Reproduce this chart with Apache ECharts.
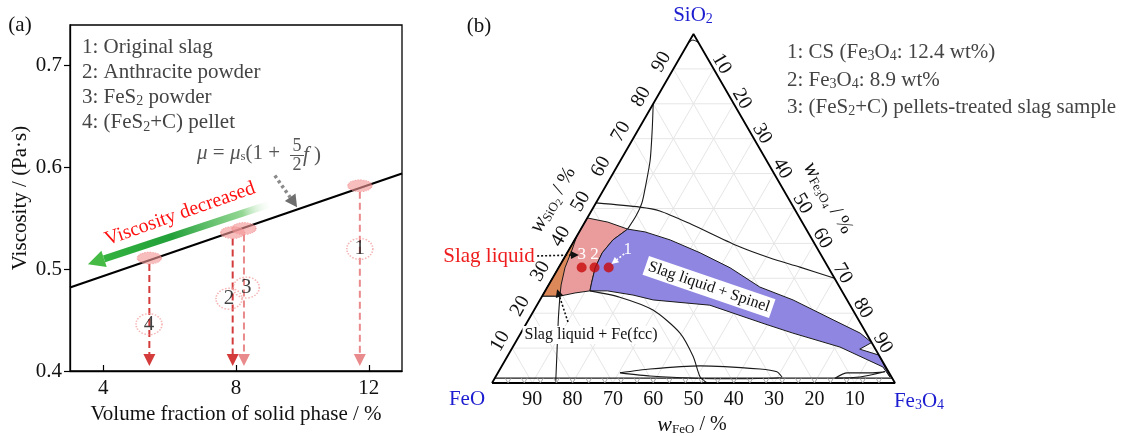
<!DOCTYPE html>
<html>
<head>
<meta charset="utf-8">
<script src="https://cdn.jsdelivr.net/npm/echarts@6.0.0/dist/echarts.min.js"></script>
<style>
html,body{margin:0;padding:0;background:#fff;}
#chart{width:1125px;height:436px;}
</style>
</head>
<body>
<div id="chart"></div>
<script>
// ---------- Panel (a): viscosity vs. volume fraction of solid phase ----------
const xTicksA = [4, 8, 12];
const yTicksA = [0.4, 0.5, 0.6, 0.7];
const fitX = [3, 13];
const fitY = [0.482, 0.594];
const sampleIds = ['1', '2', '3', '4'];
const sampleX = [11.73, 7.90, 8.24, 5.39];
const sampleY = [0.582, 0.536, 0.540, 0.511];
const tagX = [11.73, 7.79, 8.31, 5.38];
const tagY = [0.520, 0.471, 0.482, 0.446];
const dropEndY = 0.405;
const legendA = ['1: Original slag', '2: Anthracite powder', '3: FeS{s|2} powder', '4: (FeS{s|2}+C) pellet'];
const greenArrow = [9.11, 0.565, 3.54, 0.505];
const grayArrow = [9.17, 0.592, 9.84, 0.561];

// ---------- Panel (b): FeO–SiO2–Fe3O4 ternary; points are [SiO2 wt%, Fe3O4 wt%], FeO = balance ----------
const ternTicks = [10, 20, 30, 40, 50, 60, 70, 80, 90];
const slagLiquid = [[47.3,0],[46.1,5.7],[44.1,11.6],[41.0,9.5],[37.3,8.7],[33.0,9.1],[28.9,10.3],[26.4,11.1],[25.8,7.7],[24.9,4.4],[24.9,0]];
const slagLiquidFcc = [[24.9,0],[42.1,0],[38.1,0.8],[33.0,1.6],[28.1,3.1],[24.9,4.4]];
const slagSpinel = [[44.1,11.6],[43.3,16.3],[41.0,23.7],[37.3,33.0],[33.0,42.6],[27.5,52.7],[23.8,62.8],[18.1,75.6],[14.3,84.2],[11.6,88.4],[9.7,86.4],[8.0,92.0],[1.7,97.9],[4.6,94.7],[10.3,81.2],[14.3,67.5],[16.9,59.3],[22.3,42.9],[23.8,28.1],[25.2,22.4],[26.4,15.4],[26.4,11.1],[28.9,10.3],[33.0,9.1],[37.3,8.7],[41.0,9.5]];
const lineA = [[80,0],[72.5,3.5],[63.9,7.3],[56.7,9.8],[51.6,11.4],[47.9,11.8],[44.1,11.6]];
const lineB = [[51.6,0],[50.4,11.5],[49.3,17.0],[45.6,26.4],[39.3,41.2],[35.8,51.1],[33.2,59.8],[30.0,70.0]];
const lineC = [[26.4,11.1],[24.6,19.4],[20.9,29.5],[14.3,39.5],[7.5,46.2],[1.7,50.8],[0,53.4]];
const lineD = [[24.9,4.4],[18.1,7.4],[9.5,11.4],[0,15.8]];
const lineE = [[1.4,0],[1.4,98.6]];
const loop1 = [[2.9,30.3],[4.0,37.2],[4.9,49.2],[4.0,64.5],[3.2,69.1],[1.7,71.1],[1.2,56.0],[2.0,38.2],[2.9,30.3]];
const loop2 = [[1.4,84.4],[2.9,86.7],[2.9,92.4],[3.2,95.9],[1.7,90.5],[1.4,84.4]];
const capArc = [[97.6,0],[98.3,0.7],[97.6,2.4]];
const sampleIdsB = ['1', '2', '3'];
const samplesB = [[33.1,12.4],[33.1,8.9],[33.1,5.7]];
const arrowLiquid = [[36.4,-7.0],[36.7,3.2]];
const arrowFcc = [[17.5,10.1],[26.9,2.7]];
const arrowS1 = [[37.0,14.3],[34.1,12.6]];

// ---------- helpers ----------
const SERIF = "'Liberation Serif','Times New Roman',serif";
const R3 = Math.sqrt(3) / 2;
function tern(s, f) { return [(f + s / 2) / 100, s * R3 / 100]; }

function arrowShapes(p0, p1, o) {
  const dx = p1[0] - p0[0], dy = p1[1] - p0[1], L = Math.hypot(dx, dy);
  const ux = dx / L, uy = dy / L, hw = o.headW / 2;
  const bx = p1[0] - ux * o.headLen, by = p1[1] - uy * o.headLen;
  let stroke = o.color;
  if (o.gradient) {
    stroke = new echarts.graphic.LinearGradient(p0[0], p0[1], bx, by, o.gradient, true);
  }
  return [
    {type: 'line', shape: {x1: p0[0], y1: p0[1], x2: bx, y2: by},
     style: {stroke: stroke, lineWidth: o.width, lineDash: o.dash || null, lineCap: 'butt'}},
    {type: 'polygon', shape: {points: [[p1[0], p1[1]], [bx - uy * hw, by + ux * hw], [bx + uy * hw, by - ux * hw]]},
     style: {fill: o.headColor || o.color}}
  ];
}

function ternLine(pts, width) {
  return {type: 'line', xAxisIndex: 1, yAxisIndex: 1, data: pts.map(p => tern(p[0], p[1])),
    symbol: 'none', silent: true, z: 4, smooth: 0.25,
    lineStyle: {color: '#1a1a1a', width: width || 1.1}};
}

const chart = echarts.init(document.getElementById('chart'), null, {renderer: 'canvas'});

const regionDefs = [
  {pts: slagLiquid, fill: '#ea9c9c'},
  {pts: slagLiquidFcc, fill: '#dd8858'},
  {pts: slagSpinel, fill: '#8f86e2'}
];

const subRich = (fill, size) => ({
  s: {fontSize: size, fontFamily: SERIF, fill: fill, padding: [Math.round(size * 0.6), 0, 0, 0]}
});

const option = {
  animation: false,
  backgroundColor: '#fff',
  grid: [
    {left: 70, top: 25, width: 332, height: 346, show: true, borderColor: '#000', borderWidth: 1.3, backgroundColor: 'transparent'},
    {left: 492, top: 34, width: 403, height: 403 * R3}
  ],
  xAxis: [
    {gridIndex: 0, type: 'value', min: 3, max: 13,
     axisLine: {show: true, lineStyle: {color: '#000', width: 1.3}},
     axisTick: {show: true, inside: true, length: 6, customValues: xTicksA, lineStyle: {color: '#000', width: 1.2}},
     axisLabel: {customValues: xTicksA, fontSize: 21, fontFamily: SERIF, color: '#111', margin: 7},
     splitLine: {show: false},
     name: 'Volume fraction of solid phase / %', nameLocation: 'middle', nameGap: 29,
     nameTextStyle: {fontSize: 21, fontFamily: SERIF, color: '#111'}},
    {gridIndex: 1, type: 'value', min: 0, max: 1, show: false}
  ],
  yAxis: [
    {gridIndex: 0, type: 'value', min: 0.4, max: 0.74,
     axisLine: {show: true, lineStyle: {color: '#000', width: 1.3}},
     axisTick: {show: true, inside: false, length: 6, customValues: yTicksA, lineStyle: {color: '#000', width: 1.2}},
     axisLabel: {customValues: yTicksA, fontSize: 21, fontFamily: SERIF, color: '#111', margin: 8,
                 formatter: v => v.toFixed(1)},
     splitLine: {show: false},
     name: 'Viscosity / (Pa·s)', nameLocation: 'middle', nameGap: 39,
     nameTextStyle: {fontSize: 21, fontFamily: SERIF, color: '#111'}},
    {gridIndex: 1, type: 'value', min: 0, max: R3, show: false}
  ],
  series: [
    // ---- panel (a) ----
    {type: 'line', xAxisIndex: 0, yAxisIndex: 0, data: fitX.map((x, i) => [x, fitY[i]]),
     symbol: 'none', lineStyle: {color: '#000', width: 2.2}, z: 3},
    {type: 'custom', xAxisIndex: 0, yAxisIndex: 0, z: 2,
     data: sampleX.map((x, i) => [x, sampleY[i], i]),
     renderItem: (params, api) => {
       const i = params.dataIndex;
       const top = api.coord([sampleX[i], sampleY[i]]);
       const tip = api.coord([sampleX[i], dropEndY]);
       const dark = (i === 1 || i === 3);
       const col = dark ? '#d43c3c' : '#e98a8c';
       return {type: 'group', children: arrowShapes([top[0], top[1] + 6], tip,
         {color: col, width: 2, dash: [7, 4], headLen: 12, headW: 12})};
     }},
    {type: 'scatter', xAxisIndex: 0, yAxisIndex: 0, z: 4,
     data: sampleX.map((x, i) => [x, sampleY[i]]),
     symbol: 'circle', symbolSize: [24, 12],
     itemStyle: {color: 'rgba(243,150,150,0.78)', borderColor: '#f28a8a', borderWidth: 1, borderType: 'dotted'}},
    {type: 'scatter', xAxisIndex: 0, yAxisIndex: 0, z: 5,
     data: tagX.map((x, i) => ({value: [x, tagY[i]], label: {formatter: sampleIds[i]}})),
     symbol: 'circle', symbolSize: [26, 21],
     itemStyle: {color: 'rgba(255,255,255,0)', borderColor: '#f4a3a3', borderWidth: 1.5, borderType: 'dotted'},
     label: {show: true, position: 'inside', fontSize: 21, fontFamily: SERIF, color: '#111'}},
    {type: 'custom', xAxisIndex: 0, yAxisIndex: 0, z: 6,
     data: [[greenArrow[0], greenArrow[1]]],
     renderItem: (params, api) => {
       const g0 = api.coord([greenArrow[0], greenArrow[1]]);
       const g1 = api.coord([greenArrow[2], greenArrow[3]]);
       const q0 = api.coord([grayArrow[0], grayArrow[1]]);
       const q1 = api.coord([grayArrow[2], grayArrow[3]]);
       return {type: 'group', children: [].concat(
         arrowShapes(g0, g1, {color: '#2e9e3a', width: 7, headLen: 17, headW: 17, headColor: '#45bb45',
           gradient: [{offset: 0, color: 'rgba(255,255,255,0)'}, {offset: 0.18, color: 'rgba(120,205,120,0.8)'},
                      {offset: 0.6, color: '#22a03a'}, {offset: 1, color: '#33b23f'}]}),
         arrowShapes(q0, q1, {color: '#8a8a8a', width: 3.5, dash: [3, 3], headLen: 12, headW: 13, headColor: '#6e6e6e'})
       )};
     }},

    // ---- panel (b) ----
    {type: 'custom', xAxisIndex: 1, yAxisIndex: 1, z: 1, silent: true,
     data: ternTicks.map(t => [0.5, 0.3, t]),
     renderItem: (params, api) => {
       const t = ternTicks[params.dataIndex];
       const seg = (a, b) => {
         const p = api.coord(tern(a[0], a[1])), q = api.coord(tern(b[0], b[1]));
         return {type: 'line', shape: {x1: p[0], y1: p[1], x2: q[0], y2: q[1]}, style: {stroke: '#e6e6e6', lineWidth: 1}};
       };
       return {type: 'group', children: [
         seg([t, 0], [t, 100 - t]),
         seg([0, t], [100 - t, t]),
         seg([0, 100 - t], [100 - t, 0])
       ]};
     }},
    {type: 'custom', xAxisIndex: 1, yAxisIndex: 1, z: 2, silent: true,
     data: regionDefs.map((r, i) => [0.5, 0.3, i]),
     renderItem: (params, api) => {
       const r = regionDefs[params.dataIndex];
       return {type: 'polygon', shape: {points: r.pts.map(p => api.coord(tern(p[0], p[1])))},
               style: {fill: r.fill, stroke: '#1a1a1a', lineWidth: 1}};
     }},
    ternLine(lineA), ternLine(lineB), ternLine(lineC), ternLine(lineD), ternLine(lineE, 1.3),
    ternLine(loop1), ternLine(loop2), ternLine(capArc),
    {type: 'line', xAxisIndex: 1, yAxisIndex: 1, symbol: 'none', silent: true, z: 5,
     data: [tern(0, 0), tern(0, 100), tern(100, 0), tern(0, 0)],
     lineStyle: {color: '#000', width: 1.8}},
    {type: 'scatter', xAxisIndex: 1, yAxisIndex: 1, z: 7,
     data: samplesB.map(p => tern(p[0], p[1])), symbol: 'circle', symbolSize: 10,
     itemStyle: {color: '#c80a0a'}},
    {type: 'custom', xAxisIndex: 1, yAxisIndex: 1, z: 8, silent: true,
     data: [[0.5, 0.3]],
     renderItem: (params, api) => {
       const children = [];
       const txt = (s, x, y, rot) => ({type: 'text', x: x, y: y, rotation: rot,
         style: {text: s, fontSize: 20, fontFamily: SERIF, fill: '#111', align: 'center', verticalAlign: 'middle'}});
       ternTicks.forEach(t => {
         let p = api.coord(tern(t, 0));
         children.push(txt(String(t), p[0] - 12, p[1] - 7, Math.PI / 3));
         p = api.coord(tern(100 - t, t));
         children.push(txt(String(t), p[0] + 8, p[1] - 5, -Math.PI / 3));
         p = api.coord(tern(0, 100 - t));
         children.push(txt(String(t), p[0], p[1] + 17, 0));
       });
       // base tick marks (small v's between the base and the near-base boundary)
       for (let k = 1; k < 25; k++) {
         const f = k * 4;
         const p = api.coord(tern(0, f));
         children.push({type: 'polyline', shape: {points: [[p[0] - 3, p[1] - 5], [p[0], p[1]], [p[0] + 3, p[1] - 5]]},
           style: {stroke: '#999', lineWidth: 0.8, fill: null}});
       }
       // sample numbers
       const d3 = api.coord(tern(samplesB[2][0], samplesB[2][1]));
       const d2 = api.coord(tern(samplesB[1][0], samplesB[1][1]));
       const d1 = api.coord(tern(samplesB[0][0], samplesB[0][1]));
       [[sampleIdsB[2], d3, 0, -13], [sampleIdsB[1], d2, 0, -13], [sampleIdsB[0], d1, 19, -18]].forEach(a => {
         children.push({type: 'text', x: a[1][0] + a[2], y: a[1][1] + a[3],
           style: {text: a[0], fontSize: 17, fontFamily: SERIF, fill: '#fff', align: 'center', verticalAlign: 'middle'}});
       });
       const ar = (seg, o) => arrowShapes(api.coord(tern(seg[0][0], seg[0][1])), api.coord(tern(seg[1][0], seg[1][1])), o);
       children.push.apply(children, ar(arrowLiquid, {color: '#111', width: 1.6, dash: [2, 2], headLen: 8, headW: 8}));
       children.push.apply(children, ar(arrowFcc, {color: '#111', width: 1.6, dash: [2, 2], headLen: 8, headW: 8}));
       children.push.apply(children, ar(arrowS1, {color: '#fff', width: 1.6, dash: [2, 2], headLen: 7, headW: 7}));
       return {type: 'group', children: children};
     }}
  ],
  graphic: [
    // panel (a) texts
    {type: 'text', x: 20, y: 25, style: {text: '(a)', fontSize: 21, fontFamily: SERIF, fill: '#111', align: 'center', verticalAlign: 'middle'}},
    ...legendA.map((s, i) => ({type: 'text', x: 82, y: 47 + i * 25.3, z: 10,
      style: {text: s, fontSize: 21, fontFamily: SERIF, fill: '#444', verticalAlign: 'middle', rich: subRich('#444', 14)}})),
    {type: 'text', x: 197, y: 153, z: 10,
     style: {text: '{i|μ} = {i|μ}{s|s}(1 + ', fontSize: 21, fontFamily: SERIF, fill: '#555', verticalAlign: 'middle',
             rich: {i: {fontSize: 21, fontFamily: SERIF, fontStyle: 'italic', fill: '#555'},
                    s: {fontSize: 13, fontFamily: SERIF, fill: '#555', padding: [8, 0, 0, 0]}}}},
    {type: 'text', x: 297, y: 146, z: 10, style: {text: '5', fontSize: 18, fontFamily: SERIF, fill: '#555', align: 'center', verticalAlign: 'middle'}},
    {type: 'line', z: 10, shape: {x1: 290, y1: 155.5, x2: 304, y2: 155.5}, style: {stroke: '#555', lineWidth: 1}},
    {type: 'text', x: 297, y: 165, z: 10, style: {text: '2', fontSize: 18, fontFamily: SERIF, fill: '#555', align: 'center', verticalAlign: 'middle'}},
    {type: 'text', x: 303, y: 155, z: 10, style: {text: '{i|f} )', fontSize: 21, fontFamily: SERIF, fill: '#555', verticalAlign: 'middle',
      rich: {i: {fontSize: 21, fontFamily: SERIF, fontStyle: 'italic', fill: '#555'}}}},
    {type: 'text', x: 180, y: 214, rotation: 0.34, z: 10,
     style: {text: 'Viscosity decreased', fontSize: 20, fontFamily: SERIF, fill: '#ff1010', align: 'center', verticalAlign: 'middle'}},

    // panel (b) texts
    {type: 'text', x: 479, y: 26, style: {text: '(b)', fontSize: 21, fontFamily: SERIF, fill: '#111', align: 'center', verticalAlign: 'middle'}},
    {type: 'text', x: 693, y: 15, style: {text: 'SiO{s|2}', fontSize: 21, fontFamily: SERIF, fill: '#1c1cd0', align: 'center', verticalAlign: 'middle', rich: subRich('#1c1cd0', 14)}},
    {type: 'text', x: 467, y: 399, style: {text: 'FeO', fontSize: 21, fontFamily: SERIF, fill: '#1c1cd0', align: 'center', verticalAlign: 'middle'}},
    {type: 'text', x: 919, y: 401, style: {text: 'Fe{s|3}O{s|4}', fontSize: 21, fontFamily: SERIF, fill: '#1c1cd0', align: 'center', verticalAlign: 'middle', rich: subRich('#1c1cd0', 14)}},
    {type: 'text', x: 692, y: 425, style: {text: '{i|w}{s|FeO} / %', fontSize: 20, fontFamily: SERIF, fill: '#111', align: 'center', verticalAlign: 'middle',
      rich: {i: {fontSize: 22, fontFamily: SERIF, fontStyle: 'italic', fill: '#111'}, s: {fontSize: 13, fontFamily: SERIF, fill: '#111', padding: [9, 0, 0, 0]}}}},
    {type: 'text', x: 553, y: 200, rotation: Math.PI / 3, style: {text: '{i|w}{s|SiO}{t|2} / %', fontSize: 20, fontFamily: SERIF, fill: '#111', align: 'center', verticalAlign: 'middle',
      rich: {i: {fontSize: 22, fontFamily: SERIF, fontStyle: 'italic', fill: '#111'}, s: {fontSize: 13, fontFamily: SERIF, fill: '#111', padding: [9, 0, 0, 0]},
             t: {fontSize: 10, fontFamily: SERIF, fill: '#111', padding: [14, 0, 0, 0]}}}},
    {type: 'text', x: 828, y: 198, rotation: -Math.PI / 3, style: {text: '{i|w}{s|Fe}{t|3}{s|O}{t|4} / %', fontSize: 20, fontFamily: SERIF, fill: '#111', align: 'center', verticalAlign: 'middle',
      rich: {i: {fontSize: 22, fontFamily: SERIF, fontStyle: 'italic', fill: '#111'}, s: {fontSize: 13, fontFamily: SERIF, fill: '#111', padding: [9, 0, 0, 0]},
             t: {fontSize: 10, fontFamily: SERIF, fill: '#111', padding: [14, 0, 0, 0]}}}},
    {type: 'text', x: 787, y: 52, style: {text: '1: CS (Fe{s|3}O{s|4}: 12.4 wt%)', fontSize: 21, fontFamily: SERIF, fill: '#444', verticalAlign: 'middle', rich: subRich('#444', 14)}},
    {type: 'text', x: 787, y: 80, style: {text: '2: Fe{s|3}O{s|4}: 8.9 wt%', fontSize: 21, fontFamily: SERIF, fill: '#444', verticalAlign: 'middle', rich: subRich('#444', 14)}},
    {type: 'text', x: 787, y: 107, style: {text: '3: (FeS{s|2}+C) pellets-treated slag sample', fontSize: 21, fontFamily: SERIF, fill: '#444', verticalAlign: 'middle', rich: subRich('#444', 14)}},
    {type: 'text', x: 489, y: 256, z: 20, style: {text: 'Slag liquid', fontSize: 21, fontFamily: SERIF, fill: '#ee1c1c', align: 'center', verticalAlign: 'middle'}},
    {type: 'text', x: 591, y: 335, z: 20, style: {text: 'Slag liquid + Fe(fcc)', fontSize: 16, fontFamily: SERIF, fill: '#111', align: 'center', verticalAlign: 'middle',
      backgroundColor: '#fff', padding: [1, 2]}},
    {type: 'text', x: 709, y: 287, rotation: -0.33, z: 20, style: {text: 'Slag liquid + Spinel', fontSize: 16, fontFamily: SERIF, fill: '#111', align: 'center', verticalAlign: 'middle',
      backgroundColor: '#fff', padding: [2, 3]}}
  ]
};
chart.setOption(option);
</script>
</body>
</html>
